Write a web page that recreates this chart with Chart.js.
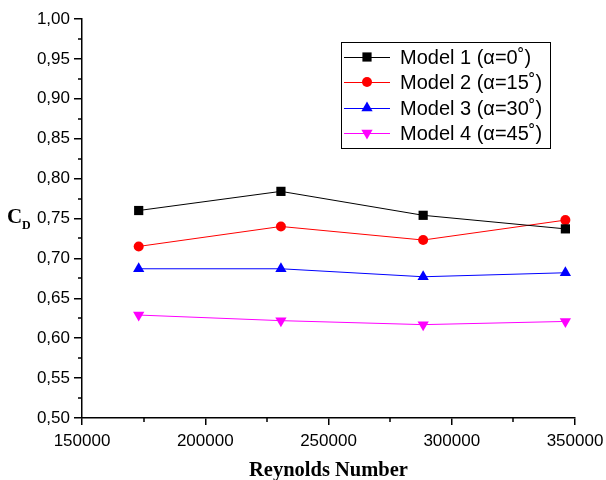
<!DOCTYPE html>
<html>
<head>
<meta charset="utf-8">
<script src="https://cdn.jsdelivr.net/npm/chart.js@4.4.0/dist/chart.umd.min.js"></script>
<style>
    html, body { margin: 0; padding: 0; background: #fff; }
</style>
</head>
<body>
<canvas id="cdChart" width="606" height="480"></canvas>
<script>
// Data
const reynolds = [173000, 230700, 288400, 346100];
const model1 = [0.760, 0.784, 0.754, 0.737];
const model2 = [0.715, 0.740, 0.723, 0.748];
const model3 = [0.687, 0.687, 0.677, 0.682];
const model4 = [0.629, 0.622, 0.617, 0.621];
const seriesLabels = ['Model 1 (\u03b1=0\u02da)', 'Model 2 (\u03b1=15\u02da)', 'Model 3 (\u03b1=30\u02da)', 'Model 4 (\u03b1=45\u02da)'];
const xTicks = [150000, 200000, 250000, 300000, 350000];
const yTicks = [0.50, 0.55, 0.60, 0.65, 0.70, 0.75, 0.80, 0.85, 0.90, 0.95, 1.00];

const tickFont = { family: 'Liberation Sans, Arial, sans-serif', size: 17 };

function makeSeries(label, values, color, style, radius, rotation) {
    return {
        label: label,
        data: reynolds.map((x, i) => ({ x: x, y: values[i] })),
        borderColor: color,
        backgroundColor: color,
        borderWidth: 1,
        pointStyle: style,
        pointRadius: radius,
        pointRotation: rotation || 0,
        pointBorderWidth: 0,
        tension: 0
    };
}

// Minor ticks on both axes (Chart.js has no minor ticks)
const minorTicks = {
    id: 'minorTicks',
    afterDraw(chart) {
        const ctx = chart.ctx;
        const xs = chart.scales.x, ys = chart.scales.y;
        const area = chart.chartArea;
        ctx.save();
        ctx.strokeStyle = '#000';
        ctx.lineWidth = 1.5;
        ctx.beginPath();
        for (let i = 0; i < xTicks.length - 1; i++) {
            const px = Math.round(xs.getPixelForValue((xTicks[i] + xTicks[i + 1]) / 2));
            ctx.moveTo(px, area.bottom);
            ctx.lineTo(px, area.bottom + 4);
        }
        for (let i = 0; i < yTicks.length - 1; i++) {
            const py = Math.round(ys.getPixelForValue((yTicks[i] + yTicks[i + 1]) / 2));
            ctx.moveTo(area.left, py);
            ctx.lineTo(area.left - 4, py);
        }
        ctx.stroke();
        ctx.restore();
    }
};

// C_D label and boxed legend
const annotations = {
    id: 'annotations',
    afterDraw(chart) {
        const ctx = chart.ctx;
        ctx.save();
        ctx.fillStyle = '#000';
        ctx.textBaseline = 'alphabetic';
        ctx.textAlign = 'left';
        ctx.font = 'bold 21px "Liberation Serif", "Times New Roman", serif';
        ctx.fillText('C', 7, 223);
        ctx.font = 'bold 12px "Liberation Serif", "Times New Roman", serif';
        ctx.fillText('D', 22, 229);

        // legend box
        const bx = 341, by = 42, bw = 209, bh = 106;
        ctx.strokeStyle = '#000';
        ctx.lineWidth = 1;
        ctx.strokeRect(bx + 0.5, by + 0.5, bw, bh);
        const rowsY = [57, 82, 108, 133];
        ctx.font = '20px "Liberation Sans", Arial, sans-serif';
        ctx.textBaseline = 'middle';
        chart.data.datasets.forEach((ds, i) => {
            const y = rowsY[i];
            ctx.strokeStyle = ds.borderColor;
            ctx.lineWidth = 1;
            ctx.beginPath();
            ctx.moveTo(344, y + 0.5);
            ctx.lineTo(390, y + 0.5);
            ctx.stroke();
            ctx.fillStyle = ds.backgroundColor;
            ctx.strokeStyle = ds.backgroundColor;
            Chart.helpers.drawPoint(ctx, {
                pointStyle: ds.pointStyle,
                rotation: ds.pointRotation,
                radius: ds.pointRadius,
                borderWidth: 0
            }, 367, y);
            ctx.fillStyle = '#000';
            ctx.fillText(ds.label, 400, y + 1);
        });
        ctx.restore();
    }
};

new Chart(document.getElementById('cdChart').getContext('2d'), {
    type: 'line',
    data: {
        datasets: [
            makeSeries(seriesLabels[0], model1, '#000000', 'rect', 6.5),
            makeSeries(seriesLabels[1], model2, '#ff0000', 'circle', 5),
            makeSeries(seriesLabels[2], model3, '#0000ff', 'triangle', 6.5),
            makeSeries(seriesLabels[3], model4, '#ff00ff', 'triangle', 6.5, 180)
        ]
    },
    options: {
        responsive: false,
        animation: false,
        layout: { padding: { left: 0, top: 19, right: 31, bottom: 0 } },
        plugins: {
            legend: { display: false },
            tooltip: { enabled: false }
        },
        scales: {
            x: {
                type: 'linear',
                min: 150000,
                max: 350000,
                afterBuildTicks: s => { s.ticks = xTicks.map(v => ({ value: v })); },
                afterFit: s => { s.height = 62; s.paddingLeft = 0; s.paddingRight = 0; },
                border: { display: true, color: '#000', width: 1.5 },
                grid: { display: true, drawOnChartArea: false, color: '#000', lineWidth: 1.5, tickLength: 7 },
                ticks: {
                    color: '#000',
                    font: tickFont,
                    padding: 6,
                    maxRotation: 0,
                    callback: v => String(v)
                },
                title: {
                    display: true,
                    text: 'Reynolds Number',
                    color: '#000',
                    font: { family: 'Liberation Serif, Times New Roman, serif', size: 20.5, weight: 'bold' },
                    padding: { top: 0, bottom: -3 }
                }
            },
            y: {
                type: 'linear',
                min: 0.5,
                max: 1.0,
                afterBuildTicks: s => { s.ticks = yTicks.map(v => ({ value: v })); },
                afterFit: s => { s.width = 82; s.paddingTop = 0; s.paddingBottom = 0; },
                border: { display: true, color: '#000', width: 1.5 },
                grid: { display: true, drawOnChartArea: false, color: '#000', lineWidth: 1.5, tickLength: 8 },
                ticks: {
                    color: '#000',
                    font: tickFont,
                    padding: 4,
                    callback: v => v.toFixed(2).replace('.', ',')
                }
            }
        }
    },
    plugins: [minorTicks, annotations]
});
</script>
</body>
</html>
